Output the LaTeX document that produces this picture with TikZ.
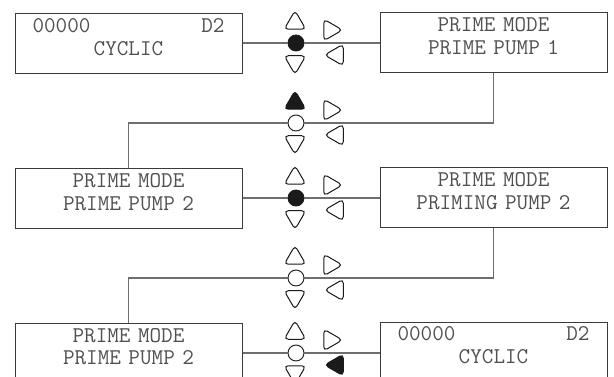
\documentclass[tikz,border=0pt]{standalone}
\usetikzlibrary{shapes.geometric}
\definecolor{wiregray}{HTML}{6E6E6E}
\definecolor{framegray}{HTML}{3A3A3A}
\definecolor{textgray}{HTML}{505050}
\definecolor{keyblack}{HTML}{1A1A1A}
\tikzset{
	panel/.style={draw=framegray, line width=1pt, inner sep=0pt,
		text width=227pt, align=center, text height=19pt, text depth=41pt,
		font=\ttfamily\fontsize{22.5}{22.5}\selectfont, text=textgray},
	wire/.style={draw=wiregray, line width=1.2pt},
	dotkey/.style={circle, draw=keyblack, line width=0.9pt,
		minimum size=16pt, inner sep=0pt},
	trikey/.style={regular polygon, regular polygon sides=3, draw=keyblack,
		line width=1pt, minimum size=25pt, inner sep=0pt, rounded corners=4pt},
}
% key group: prefix, y, fills (up, dot, down, right, left)
\newcommand{\keyset}[7]{
	\node[trikey, fill=#3] (#1up) at (295,#2-20) {};
	\node[dotkey, fill=#4] (#1dot) at (296,#2) {};
	\node[trikey, fill=#5, shape border rotate=180] (#1down) at (295,#2+19) {};
	\node[trikey, fill=#6, shape border rotate=-90] (#1right) at (330,#2-13) {};
	\node[trikey, fill=#7, shape border rotate=90] (#1left) at (337,#2+12) {};
}

\begin{document}
\begin{tikzpicture}[x=1pt, y=-1pt]
			\clip (0,0) rectangle (614,377);
			% Anzeigen
			\node[panel] (cyclicA) at (128.5,44) {\makebox[192pt]{00000\hfill D2}\\CYCLIC};
			\node[panel] (primeA) at (493.5,43) {PRIME MODE\\PRIME PUMP 1};
			\node[panel] (primeB) at (128.5,199) {PRIME MODE\\PRIME PUMP 2};
			\node[panel] (primingB) at (493.5,198) {PRIME MODE\\PRIMING PUMP 2};
			\node[panel] (primeC) at (128.5,353) {PRIME MODE\\PRIME PUMP 2};
			\node[panel] (cyclicB) at (493.5,352) {\makebox[192pt]{00000\hfill D2}\\CYCLIC};
			% Tasten
			\keyset{a}{43}{white}{keyblack}{white}{white}{white}
			\keyset{b}{123}{keyblack}{white}{white}{white}{white}
			\keyset{c}{198}{white}{keyblack}{white}{white}{white}
			\keyset{d}{278}{white}{white}{white}{white}{white}
			\keyset{e}{353}{white}{white}{white}{white}{keyblack}
			% Verbindungen
			\draw[wire] (cyclicA.east |- adot) -- (adot) -- (primeA);
			\draw[wire] (primeA.south) |- (bdot) -| (primeB.north);
			\draw[wire] (primeB.east |- cdot) -- (cdot) -- (primingB);
			\draw[wire] (primingB.south) |- (ddot) -| (primeC.north);
			\draw[wire] (primeC) -- (edot) -- (cyclicB.west |- edot);
		\end{tikzpicture}
\end{document}
